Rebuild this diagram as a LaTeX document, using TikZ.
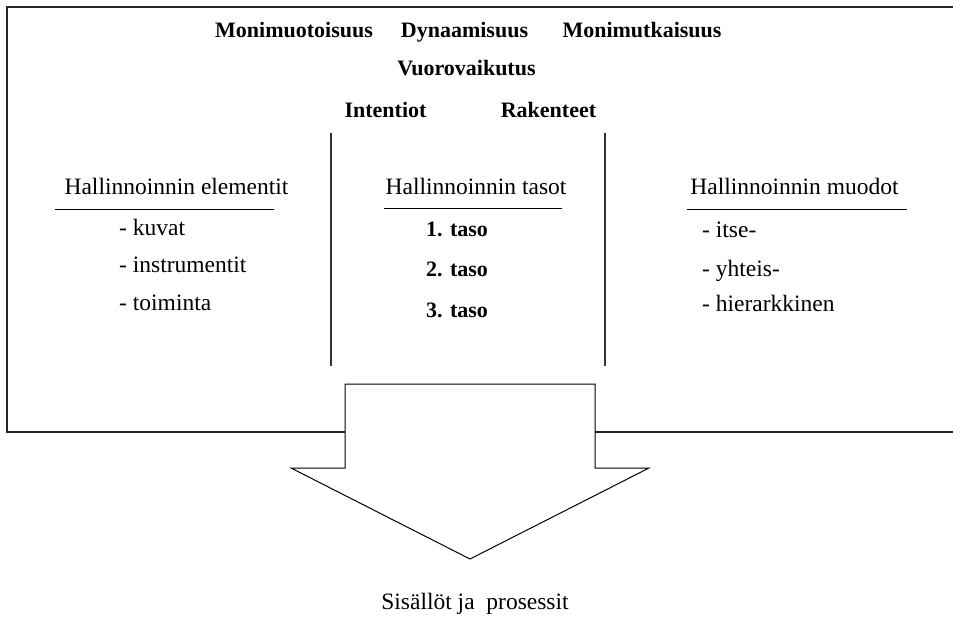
\documentclass[tikz,border=0pt]{standalone}
\usepackage{fontspec}
\setmainfont{Liberation Serif}
\begin{document}
\begin{tikzpicture}[x=1pt,y=-1pt,
  reg/.style={inner sep=0pt,font=\fontsize{23.5}{28}\selectfont},
  bld/.style={inner sep=0pt,font=\fontsize{22}{26}\selectfont\bfseries},
  frameline/.style={line width=1.1pt,black!85},
  sepline/.style={line width=1.3pt,black!80},
  ruleline/.style={line width=1pt},
  arrowshape/.style={line width=1pt,fill=white,draw=black}]
\useasboundingbox (0,0) rectangle (953,620);
% frame (open to the right)
\draw[frameline] (953,7) -- (7,7) -- (7,432) -- (953,432);
% top words
\node[bld,anchor=base] (m1) at (294,38) {Monimuotoisuus};
\node[bld,anchor=base] (m2) at (464.5,38) {Dynaamisuus};
\node[bld,anchor=base] (m3) at (642,38) {Monimutkaisuus};
\node[bld,anchor=base] (vv) at (466.5,76) {Vuorovaikutus};
\node[bld,anchor=base] (int) at (385.5,118) {Intentiot};
\node[bld,anchor=base] (rak) at (548.5,118) {Rakenteet};
% separators
\draw[sepline] (331,133) -- (331,366);
\draw[sepline] (605,133) -- (605,366);
% left column
\node[reg,anchor=base] (he) at (176.5,195) {Hallinnoinnin elementit};
\draw[ruleline] (55,210) -- (274,210);
\node[reg,anchor=base west] (e1) at (119,236) {- kuvat};
\node[reg,anchor=base west] (e2) at (119,273) {- instrumentit};
\node[reg,anchor=base west] (e3) at (119,311) {- toiminta};
% middle column
\node[reg,anchor=base] (ht) at (476,195) {Hallinnoinnin tasot};
\draw[ruleline] (384,209) -- (562,209);
\node[bld,anchor=base west] (t1) at (426,237) {1. taso};
\node[bld,anchor=base west] (t2) at (426,277) {2. taso};
\node[bld,anchor=base west] (t3) at (426,317) {3. taso};
% right column
\node[reg,anchor=base] (hm) at (794.5,195) {Hallinnoinnin muodot};
\draw[ruleline] (687,210) -- (907,210);
\node[reg,anchor=base west] (f1) at (702,238) {- itse-};
\node[reg,anchor=base west] (f2) at (702,277) {- yhteis-};
\node[reg,anchor=base west] (f3) at (702,312) {- hierarkkinen};
% big arrow
\draw[arrowshape] (345,384) -- (595,384) -- (595,468) -- (649,468) -- (470,559)
  -- (291,468) -- (345,468) -- cycle;
\node[reg,anchor=base] (sp) at (475,609) {Sisällöt ja\ \ prosessit};
\end{tikzpicture}
\end{document}
